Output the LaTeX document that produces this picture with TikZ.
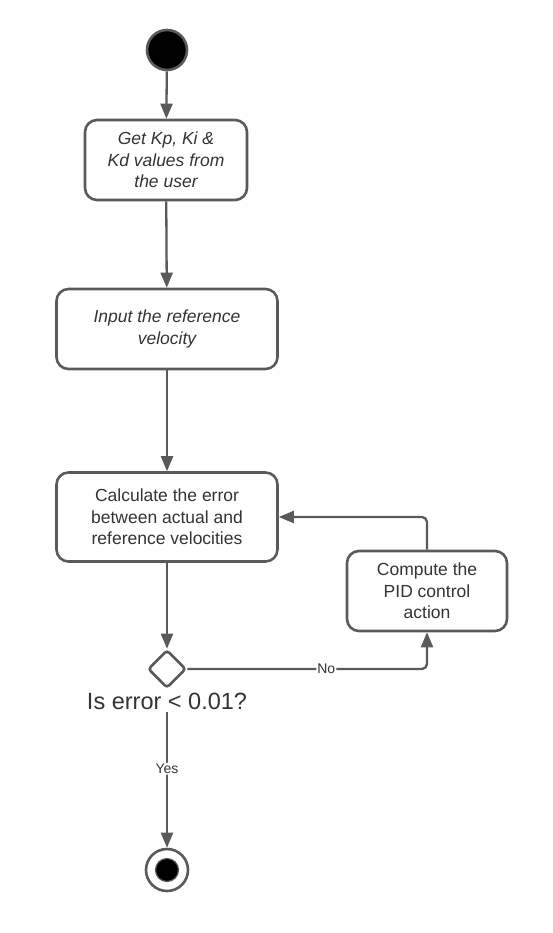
\documentclass[tikz,border=0pt]{standalone}
\usepackage{fontspec}
\setmainfont{Liberation Sans}
\usetikzlibrary{arrows.meta}
\usetikzlibrary{shapes.geometric}
\definecolor{linegray}{HTML}{5A5A5A}
\definecolor{textgray}{HTML}{333333}
\tikzset{%
    activity/.style={
        draw=linegray, line width=2.6pt, rounded corners=12pt,
        align=center, text=textgray, inner sep=0pt,
        font=\fontsize{17.5}{21.5}\selectfont
    }
}
\tikzset{flow/.style={draw=linegray, line width=2.3pt, rounded corners=5pt, -{Triangle[length=15pt,width=12pt]}}}
\tikzset{guard/.style={fill=white, text=textgray, inner sep=1pt, font=\fontsize{14}{16}\selectfont}}

\begin{document}
\begin{tikzpicture}[x=1pt, y=-1pt]
		\useasboundingbox (0,0) rectangle (552,933);

		% start and end
		\node (start) at (167,50) [circle, draw=linegray, fill=black, line width=2.6pt, minimum size=40pt, inner sep=0pt] {};
		\node (end) at (167,870) [circle, draw=linegray, fill=white, line width=2.6pt, minimum size=42pt, inner sep=0pt] {};
		\node (enddot) at (167,870) [circle, draw=linegray, fill=black, line width=1.2pt, minimum size=23pt, inner sep=0pt] {};

		% activities
		\node (gains) at (166,160) [activity, minimum width=162pt, minimum height=80pt] {\itshape Get Kp, Ki \&\\ \itshape Kd values from\\ \itshape the user};
		\node (refvel) at (167,329) [activity, minimum width=221pt, minimum height=80pt] {\itshape Input the reference\\ \itshape velocity};
		\node (error) at (167,517) [activity, minimum width=221pt, minimum height=89pt] {Calculate the error\\ between actual and\\ reference velocities};
		\node (pid) at (427,591) [activity, minimum width=160pt, minimum height=80pt] {Compute the\\ PID control\\ action};

		% decision
		\node (check) at (167,669) [diamond, draw=linegray, line width=2.6pt, rounded corners=3pt, minimum size=38pt, inner sep=0pt] {};
		\node (question) at (167,701) [text=textgray, inner sep=2pt, font=\fontsize{23.5}{26}\selectfont] {Is error < 0.01?};

		\draw[flow] (start) -- (gains);
		\draw[flow] (gains) -- (refvel);
		\draw[flow] (refvel) -- (error);
		\draw[flow] (error) -- (check);
		\draw[flow] (check) -| node[guard, pos=0.29] {No} (pid);
		\draw[flow] (pid) |- (error);
		\draw[flow] (question) -- node[guard, pos=0.42] {Yes} (end);
	\end{tikzpicture}
\end{document}
